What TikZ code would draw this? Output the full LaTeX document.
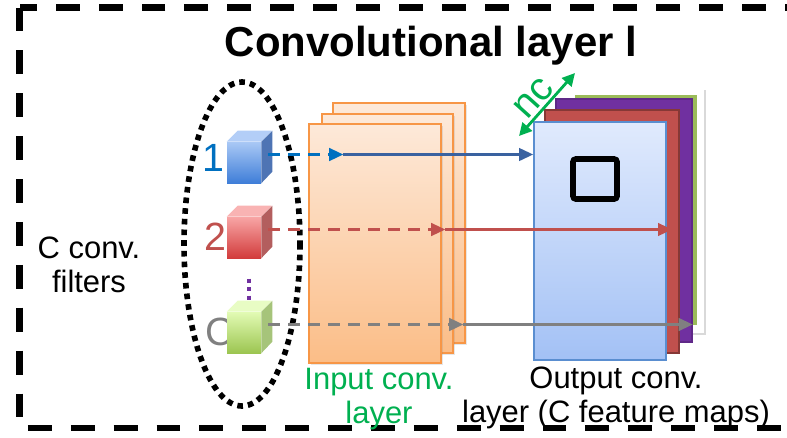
\documentclass[tikz,border=0pt]{standalone}
\usepackage{fontspec}
\setmainfont{Liberation Sans}
\usetikzlibrary{positioning,fit,calc,shadows,arrows.meta}

\definecolor{filterblue}{HTML}{0070C0}
\definecolor{arrowblue}{HTML}{3A62A0}
\definecolor{filterred}{HTML}{C0504D}
\definecolor{filtergray}{HTML}{808080}
\definecolor{labelgreen}{HTML}{00B050}
\definecolor{dotpurple}{HTML}{7030A0}
\definecolor{inorange}{HTML}{F79646}
\definecolor{intop}{HTML}{FDE9D9}
\definecolor{inbot}{HTML}{FBBD87}
\definecolor{outtop}{HTML}{E0EAFD}
\definecolor{outbot}{HTML}{A3C1F5}
\definecolor{outline}{HTML}{5A8ED0}
\definecolor{mapgreen}{HTML}{9BBB59}
% cube faces
\definecolor{bluefronttop}{HTML}{A9C8F5}
\definecolor{bluefrontbot}{HTML}{3F7ED8}
\definecolor{bluetopface}{HTML}{B3CEF7}
\definecolor{bluesideface}{HTML}{4E74B4}
\definecolor{redfronttop}{HTML}{F8A5A5}
\definecolor{redfrontbot}{HTML}{D23C3C}
\definecolor{redtopface}{HTML}{F9B3B3}
\definecolor{redsideface}{HTML}{B35E5E}
\definecolor{greenfronttop}{HTML}{E2FBB4}
\definecolor{greenfrontbot}{HTML}{9CC551}
\definecolor{greentopface}{HTML}{E8FCC4}
\definecolor{greensideface}{HTML}{A6C47A}

% filter cube: name, top left corner of the front face, colour prefix
\newcommand{\filtercube}[3]{%
	\node[cubefront, top color=#3fronttop, bottom color=#3frontbot, fit={(#2) ($(#2)+(34,41)$)}] (#1) {};
	\fill[#3topface] (#1.north west) -- ++(11,-11) -- ++(34,0) -- (#1.north east) -- cycle;
	\fill[#3sideface] (#1.north east) -- ++(11,-11) -- ++(0,41) -- (#1.south east) -- cycle;
}

\begin{document}
\begin{tikzpicture}[x=0.025cm, y=-0.025cm,
	title/.style = {font=\fontsize{29.8}{31}\selectfont\bfseries},
	caption/.style = {font=\fontsize{22}{24}\selectfont, align=center, inner sep=0pt},
	filterlabel/.style = {font=\fontsize{28}{30}\selectfont, inner sep=0pt},
	cubefront/.style = {inner sep=0pt},
	inmap/.style = {draw=inorange, line width=1.4pt, top color=intop, bottom color=inbot, inner sep=0pt,
		drop shadow={opacity=0.2, shadow xshift=1.5pt, shadow yshift=-1.5pt}},
	outmap/.style = {inner sep=0pt}]
	\tikzset{edge/.style = {-{Triangle[length=10pt, width=9pt]}, line width=1.6pt},
		dashedge/.style = {edge, dash pattern=on 8.5pt off 5.7pt}}

	\clip (0,0) rectangle (787,437);

	% outer frame of the layer
	\draw[line width=4.3pt, dash pattern=on 17pt off 13.5pt] (19.5,7.5) rectangle (830,428);
	\node[title, anchor=base] (title) at (431,56) {Convolutional layer l};
	\node[caption] (filt) at (89,265) {C conv.\\filters};

	% the C filters
	\draw[line width=4pt, dash pattern=on 4pt off 3.6pt] (242,244) ellipse [x radius=58, y radius=162];
	\node[filterlabel, text=filterblue] (l1) at (213,158) {1};
	\node[filterlabel, text=filterred] (l2) at (215,237) {2};
	\node[filterlabel, text=filtergray] (lC) at (220,332) {C};
	\filtercube{f1}{227,142}{blue}
	\filtercube{f2}{227,217}{red}
	\filtercube{fC}{227,312}{green}
	\draw[dotpurple, line width=3pt, dash pattern=on 3pt off 3pt] ($(fC.north)+(5,-33)$) -- ($(fC.north)+(5,-10)$);

	% input layer
	\node[inmap, fit={(333,103) (465,343)}] (in3) {};
	\node[inmap, fit={(322,114) (453,353)}] (in2) {};
	\node[inmap, fit={(309,124) (441,363)}] (in1) {};
	\node[caption, text=labelgreen, below=0.1cm of in1, xshift=0.1cm] (inlbl) {Input conv.\\layer};

	% output feature maps
	\node[outmap, fit={(567,88) (704,333)}, fill=white,
		drop shadow={opacity=0.3, shadow xshift=1.5pt, shadow yshift=-1.5pt}] (outW) {};
	\node[outmap, fit={(575,95) (697,325)}, fill=mapgreen] (outG) {};
	\node[outmap, fit={(556,99) (692,342)}, fill=dotpurple, draw=dotpurple!85!black, line width=1pt] (outP) {};
	\node[outmap, fit={(545,110) (679,353)}, fill=filterred, draw=filterred!70!black, line width=1.5pt] (outR) {};
	\node[outmap, fit={(534,122) (666,360)}, top color=outtop, bottom color=outbot, draw=outline, line width=1.2pt] (out) {};
	\node[outmap, fit={(573,159) (617,199)}, draw, line width=4pt, rounded corners=2pt] (win) {};
	\node[caption, anchor=north] (outlbl) at (616,367) {Output conv.\\layer (C feature maps)};

	% filters slid over the input
	\coordinate (s1) at ($(f1.east)+(7,-8)$);
	\coordinate (s2) at ($(f2.east)+(7,-8)$);
	\coordinate (s3) at ($(fC.east)+(7,-8)$);
	\coordinate (m1) at ($(s1)+(75,0)$);
	\coordinate (m2) at ($(s2)+(177,0)$);
	\coordinate (m3) at ($(s3)+(195,0)$);
	\draw[dashedge, filterblue] (s1) -- (m1);
	\draw[dashedge, filterred] (s2) -- (m2);
	\draw[dashedge, filtergray] (s3) -- (m3);
	\draw[edge, arrowblue] (m1) -- (m1 -| out.west);
	\draw[edge, filterred, shorten >=0.2cm] (m2) -- (m2 -| outR.east);
	\draw[edge, filtergray] (m3) -- (m3 -| outP.east);

	% number of channels
	\coordinate (ncA) at (519,136);
	\coordinate (ncB) at (575,73);
	\draw[{Triangle[length=9pt, width=9pt]}-{Triangle[length=9pt, width=9pt]}, labelgreen, line width=2pt] (ncA) -- (ncB);
	\node[filterlabel, text=labelgreen, rotate=48] (nc) at (534,98) {nc};
\end{tikzpicture}
\end{document}
